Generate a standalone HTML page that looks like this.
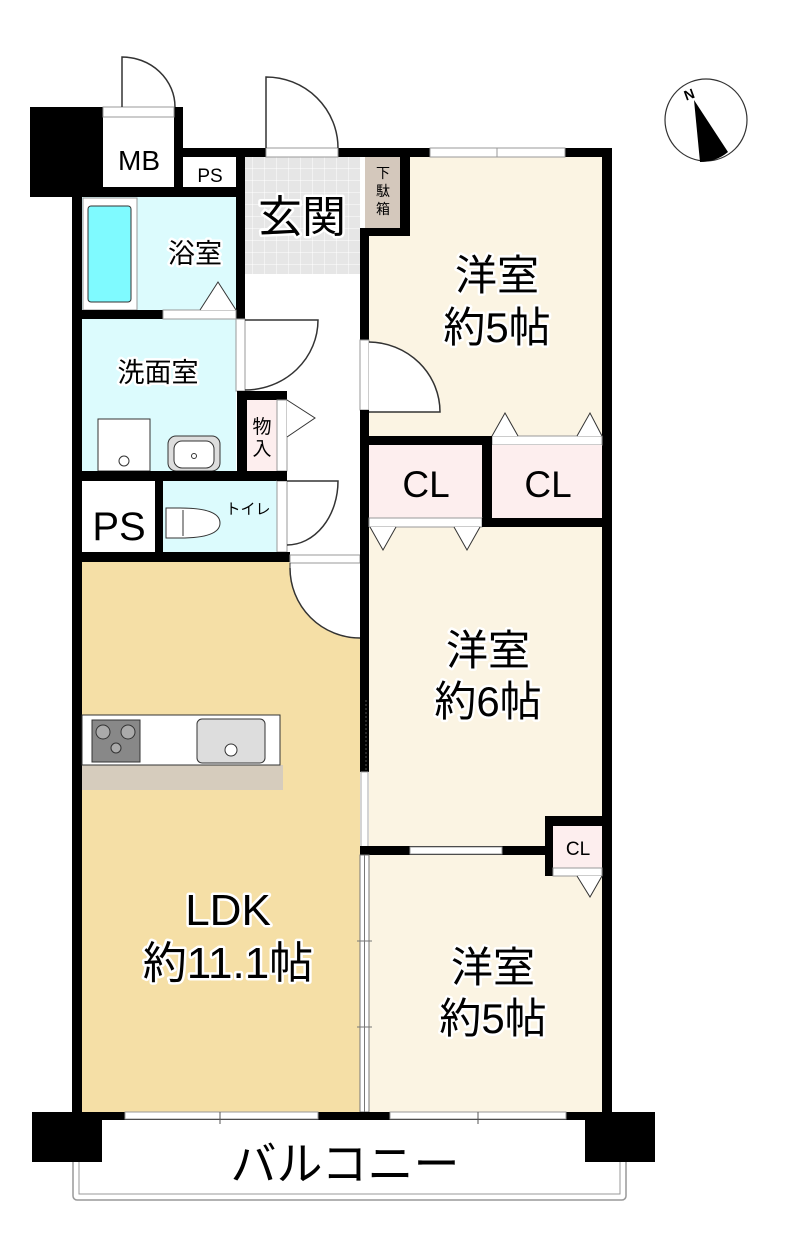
<!DOCTYPE html>
<html><head><meta charset="utf-8"><style>
html,body{margin:0;padding:0;background:#fff;}
svg{display:block;}
text{font-family:"Liberation Sans","Noto Sans CJK JP",sans-serif;fill:#000;}
.lbl{paint-order:stroke;stroke:#fff;stroke-width:5px;stroke-linejoin:round;}
</style></head><body>
<svg width="790" height="1257" viewBox="0 0 790 1257" xmlns="http://www.w3.org/2000/svg">
<!-- balcony -->
<rect x="73" y="1118" width="553" height="82" rx="4" fill="#fff" stroke="#999" stroke-width="1.5"/>
<rect x="79" y="1118" width="541" height="76" fill="#fff" stroke="#999" stroke-width="1"/>
<!-- room fills -->
<rect x="82" y="562" width="278" height="550" fill="#f5dfa6"/>
<path d="M290 562V568A70 70 0 0 0 360 638V562Z" fill="#fff"/>
<rect x="369" y="157" width="233" height="280" fill="#fbf4e3"/>
<rect x="369" y="527" width="233" height="322" fill="#fbf4e3"/>
<rect x="369" y="855" width="233" height="257" fill="#fbf4e3"/>
<rect x="82" y="197" width="154" height="113" fill="#dcfbfd"/>
<rect x="82" y="319" width="154" height="152" fill="#dcfbfd"/>
<rect x="163" y="481" width="114" height="71" fill="#dcfbfd"/>
<!-- genkan tiles -->
<defs><pattern id="tile" width="12" height="12" patternUnits="userSpaceOnUse"><rect width="12" height="12" fill="#e6e6e6"/><path d="M0 0H12M0 0V12" stroke="#fff" stroke-width="1"/></pattern></defs>
<rect x="245" y="157" width="115" height="117" fill="url(#tile)"/>
<rect x="365" y="157" width="35" height="71" fill="#d4c8bc"/>
<!-- bathtub -->
<rect x="83" y="198" width="54" height="112" fill="#fff" stroke="#999"/>
<rect x="88" y="206" width="43" height="96" rx="3" fill="#7ffaff" stroke="#333"/>
<!-- MB / top black block -->
<rect x="30" y="107" width="153" height="90" fill="#000"/>
<rect x="103" y="117" width="71" height="70" fill="#fff"/>
<rect x="103" y="107" width="71" height="10" fill="#fff" stroke="#999"/>
<path d="M122 107V57A53 50 0 0 1 175 107" fill="none" stroke="#333" stroke-width="1.5"/>
<!-- top wall -->
<rect x="183" y="148" width="429" height="9" fill="#000"/>
<rect x="266" y="148" width="72" height="9" fill="#fff" stroke="#999"/>
<path d="M266 148V77A72 71 0 0 1 338 148" fill="none" stroke="#333" stroke-width="1.5"/>
<rect x="430" y="148" width="135" height="9" fill="#fff" stroke="#999"/>
<line x1="497" y1="148" x2="497" y2="157" stroke="#999"/>
<!-- PS top -->
<rect x="183" y="157" width="53" height="30" fill="#fff"/>
<rect x="72" y="187" width="173" height="10" fill="#000"/>
<rect x="236" y="148" width="9" height="171" fill="#000"/>
<!-- getabako frame -->
<rect x="400" y="148" width="10" height="88" fill="#000"/>
<rect x="360" y="228" width="50" height="8" fill="#000"/>
<!-- left outer wall -->
<rect x="72" y="187" width="10" height="933" fill="#000"/>
<!-- right outer wall -->
<rect x="602" y="148" width="10" height="972" fill="#000"/>
<!-- bath bottom wall -->
<rect x="72" y="310" width="91" height="9" fill="#000"/>
<rect x="163" y="310" width="73" height="9" fill="#fff" stroke="#999"/>
<path d="M200 310L218 282L236 310" fill="#fff" stroke="#333"/>
<!-- senmen door -->
<rect x="236" y="319" width="9" height="72" fill="#fff" stroke="#999"/>
<path d="M245 320H318A73 70 0 0 1 245 390" fill="none" stroke="#333" stroke-width="1.5"/>
<!-- mono-ire -->
<rect x="237" y="391" width="50" height="90" fill="#000"/>
<rect x="247" y="400" width="30" height="71" fill="#fdeeee"/>
<rect x="277" y="400" width="10" height="71" fill="#fff" stroke="#999"/>
<path d="M287 400L315 418L287 437" fill="#fff" stroke="#333"/>
<!-- washer & sink -->
<rect x="98" y="419" width="52" height="52" fill="#fff" stroke="#333"/>
<circle cx="124" cy="461" r="5" fill="#fff" stroke="#333"/>
<rect x="168" y="436" width="52" height="35" rx="8" fill="#ddd" stroke="#333"/>
<rect x="174" y="441" width="40" height="27" rx="8" fill="#fff" stroke="#333"/>
<circle cx="194" cy="456" r="2.5" fill="none" stroke="#333"/>
<!-- wall y471 -->
<rect x="72" y="471" width="215" height="10" fill="#000"/>
<!-- PS lower -->
<rect x="82" y="481" width="73" height="71" fill="#fff"/>
<rect x="155" y="481" width="8" height="71" fill="#000"/>
<!-- toilet -->
<path d="M166 508H180Q220 508 220 523Q220 538 180 538H166Z" fill="#fff" stroke="#333"/>
<line x1="183" y1="510" x2="183" y2="536" stroke="#333"/>
<rect x="277" y="481" width="10" height="71" fill="#fff" stroke="#999"/>
<path d="M287 481H338A51 64 0 0 1 287 545" fill="none" stroke="#333" stroke-width="1.5"/>
<rect x="277" y="471" width="10" height="10" fill="#000"/>
<!-- wall y552 -->
<rect x="72" y="552" width="218" height="10" fill="#000"/>
<rect x="290" y="555" width="70" height="8" fill="#fff" stroke="#999"/>
<line x1="290" y1="563" x2="290" y2="568" stroke="#333"/>
<path d="M290 568A70 70 0 0 0 360 638" fill="none" stroke="#333" stroke-width="1.5"/>
<!-- room 5 left wall -->
<rect x="360" y="228" width="9" height="112" fill="#000"/>
<rect x="360" y="340" width="9" height="70" fill="#fff" stroke="#999"/>
<path d="M369 342A72 70 0 0 1 440 412H369" fill="#fff" stroke="#333" stroke-width="1.5"/>
<rect x="360" y="410" width="9" height="117" fill="#000"/>
<!-- CL row -->
<rect x="360" y="436" width="132" height="9" fill="#000"/>
<rect x="492" y="436" width="110" height="9" fill="#fff" stroke="#999"/>
<path d="M492 436L505 413L518 436M577 436L590 413L602 436" fill="#fff" stroke="#333"/>
<rect x="369" y="445" width="113" height="73" fill="#fdeeee"/>
<rect x="492" y="445" width="110" height="73" fill="#fdeeee"/>
<rect x="482" y="436" width="10" height="91" fill="#000"/>
<rect x="369" y="518" width="113" height="9" fill="#fff" stroke="#999"/>
<path d="M370 527L383 550L396 527M454 527L467 550L480 527" fill="#fff" stroke="#333"/>
<rect x="482" y="518" width="130" height="9" fill="#000"/>
<!-- room6 left wall -->
<rect x="360" y="527" width="9" height="245" fill="#000"/>
<line x1="366" y1="700" x2="366" y2="772" stroke="#555" stroke-dasharray="2,2"/>
<rect x="361" y="772" width="7" height="75" fill="#fff" stroke="#aaa"/>
<!-- wall between room6 & 5 -->
<rect x="360" y="846" width="185" height="9" fill="#000"/>
<rect x="410" y="847" width="92" height="7" fill="#fff" stroke="#999"/>
<rect x="545" y="816" width="67" height="60" fill="#000"/>
<rect x="553" y="826" width="49" height="42" fill="#fdeeee"/>
<rect x="553" y="868" width="49" height="8" fill="#fff" stroke="#999"/>
<path d="M577 876L590 897L602 876" fill="#fff" stroke="#333"/>
<!-- divider LDK / room5 -->
<rect x="360" y="855" width="9" height="257" fill="#fff" stroke="#777"/>
<line x1="364.5" y1="855" x2="364.5" y2="1112" stroke="#777"/>
<line x1="357" y1="941" x2="372" y2="941" stroke="#777"/>
<line x1="357" y1="1027" x2="372" y2="1027" stroke="#777"/>
<!-- kitchen -->
<rect x="82" y="765" width="201" height="25" fill="#d6ccbd"/>
<rect x="82" y="715" width="198" height="50" fill="#fff" stroke="#333"/>
<rect x="92" y="720" width="48" height="42" fill="#888" stroke="#333"/>
<circle cx="103" cy="732" r="7" fill="#aaa" stroke="#333"/>
<circle cx="128" cy="732" r="7" fill="#aaa" stroke="#333"/>
<circle cx="116" cy="748" r="5" fill="#aaa" stroke="#333"/>
<rect x="197" y="719" width="68" height="44" rx="5" fill="#ddd" stroke="#333"/>
<circle cx="231" cy="750" r="6" fill="#fff" stroke="#333"/>
<!-- bottom wall -->
<rect x="72" y="1112" width="540" height="8" fill="#000"/>
<rect x="125" y="1112" width="193" height="7" fill="#fff" stroke="#999"/>
<line x1="220" y1="1112" x2="220" y2="1124" stroke="#555"/>
<rect x="390" y="1112" width="176" height="7" fill="#fff" stroke="#999"/>
<line x1="478" y1="1112" x2="478" y2="1124" stroke="#555"/>
<rect x="32" y="1112" width="70" height="50" fill="#000"/>
<rect x="585" y="1112" width="70" height="50" fill="#000"/>
<!-- compass -->
<circle cx="706" cy="120" r="41" fill="#fff" stroke="#333" stroke-width="1.2"/>
<path d="M694 100L700 162Q716 162 728 152Z" fill="#000"/>
<text x="684" y="99" font-size="14" font-family="Liberation Serif" font-weight="bold" transform="rotate(-20 690 94)">N</text>
<!-- labels -->
<text x="139" y="170" font-size="28" text-anchor="middle">MB</text>
<text x="210" y="182" font-size="19" text-anchor="middle">PS</text>
<text x="302" y="232" font-size="44" text-anchor="middle" class="lbl">玄関</text>
<text x="383" y="178" font-size="14" text-anchor="middle">下</text>
<text x="383" y="196" font-size="14" text-anchor="middle">駄</text>
<text x="383" y="214" font-size="14" text-anchor="middle">箱</text>
<text x="195" y="263" font-size="27" text-anchor="middle" class="lbl">浴室</text>
<text x="158" y="382" font-size="27" text-anchor="middle" class="lbl">洗面室</text>
<text x="262" y="433" font-size="19" text-anchor="middle">物</text>
<text x="262" y="455" font-size="19" text-anchor="middle">入</text>
<text x="119" y="540" font-size="40" text-anchor="middle">PS</text>
<text x="248" y="514" font-size="15" text-anchor="middle">トイレ</text>
<text x="497" y="290" font-size="42" text-anchor="middle" class="lbl">洋室</text>
<text x="497" y="342" font-size="42" text-anchor="middle" class="lbl">約5帖</text>
<text x="426" y="497" font-size="37" text-anchor="middle">CL</text>
<text x="548" y="497" font-size="37" text-anchor="middle">CL</text>
<text x="488" y="665" font-size="42" text-anchor="middle" class="lbl">洋室</text>
<text x="488" y="716" font-size="42" text-anchor="middle" class="lbl">約6帖</text>
<text x="578" y="855" font-size="19" text-anchor="middle">CL</text>
<text x="228" y="925" font-size="44" text-anchor="middle" class="lbl">LDK</text>
<text x="228" y="978" font-size="44" text-anchor="middle" class="lbl">約11.1帖</text>
<text x="493" y="982" font-size="42" text-anchor="middle" class="lbl">洋室</text>
<text x="493" y="1033" font-size="42" text-anchor="middle" class="lbl">約5帖</text>
<text x="345" y="1180" font-size="46" text-anchor="middle">バルコニー</text>
</svg>
</body></html>
